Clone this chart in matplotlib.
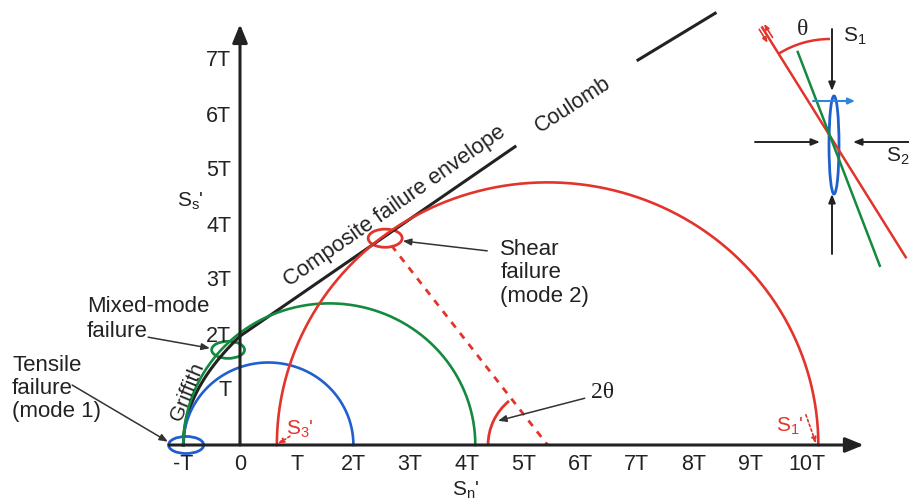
import numpy as np
import matplotlib
matplotlib.use('Agg')
import matplotlib.pyplot as plt
from matplotlib.patches import Ellipse, Arc

plt.rcParams['font.family'] = ['Liberation Sans', 'DejaVu Sans']
plt.rcParams['mathtext.fontset'] = 'custom'
plt.rcParams['mathtext.rm'] = 'Liberation Sans'
plt.rcParams['mathtext.it'] = 'Liberation Sans'

# ---- Data (stress in units of T) ------------------------------
circle_names = ['tensile', 'mixed', 'shear']
circle_s3 = [-1.0, -1.0, 0.65]     # left end of each Mohr circle
circle_s1 = [2.0, 4.15, 10.2]      # right end of each Mohr circle
circle_colors = ['#1f5fcf', '#148a3f', '#e3342b']

x_ticks = [-1, 0, 1, 2, 3, 4, 5, 6, 7, 8, 9, 10]
x_labels = ['-T', '0', 'T', '2T', '3T', '4T', '5T', '6T', '7T', '8T', '9T', '10T']
y_ticks = [1, 2, 3, 4, 5, 6, 7]
y_labels = ['T', '2T', '3T', '4T', '5T', '6T', '7T']

cohesion = 1.98        # envelope intercept (2T)
friction = 0.71        # envelope slope
envelope_end = 4.85
coulomb_x = [7.02, 8.38]
coulomb_y = [7.0, 7.85]

BLACK = '#222222'
RED = circle_colors[2]
GREEN = circle_colors[1]
BLUE = circle_colors[0]

# ---- Figure ----------------------------------------------------
fig = plt.figure(figsize=(9.09, 5.02), dpi=100)
ax = fig.add_axes([0, 0, 1, 1])
ax.set_xlim(-240 / 56.7, 669 / 56.7)
ax.set_ylim(-56 / 55, 446 / 55)
ax.axis('off')

# axes with arrows
ax.annotate('', xy=(11.0, 0), xytext=(-1.25, 0),
            arrowprops=dict(arrowstyle='-|>,head_length=1.1,head_width=0.45',
                            lw=2.2, color=BLACK, shrinkA=0, shrinkB=0))
ax.annotate('', xy=(0, 7.65), xytext=(0, 0),
            arrowprops=dict(arrowstyle='-|>,head_length=1.1,head_width=0.45',
                            lw=2.2, color=BLACK, shrinkA=0, shrinkB=0))

for xt, lab in zip(x_ticks, x_labels):
    ax.text(xt, -0.34, lab, ha='center', va='center', fontsize=15.5, color=BLACK)
for yt, lab in zip(y_ticks, y_labels):
    ax.text(-0.15, yt, lab, ha='right', va='center', fontsize=15.5, color=BLACK)

ax.text(-0.88, 4.44, "S$_\\mathrm{s}$'", ha='center', va='center', fontsize=15, color=BLACK)
ax.text(3.99, -0.80, "S$_\\mathrm{n}$'", ha='center', va='center', fontsize=15, color=BLACK)

# ---- Envelope --------------------------------------------------
gx = np.linspace(-1, 0, 100)
gy = cohesion * np.sqrt(gx + 1)
ax.plot(gx, gy, color=BLACK, lw=2.2)
ex = np.array([0, envelope_end])
ax.plot(ex, cohesion + friction * ex, color=BLACK, lw=2.2)
ax.plot(coulomb_x, coulomb_y, color=BLACK, lw=2.2)

# ---- Mohr circles ---------------------------------------------
t = np.linspace(0, np.pi, 300)
for s3, s1, c in zip(circle_s3, circle_s1, circle_colors):
    cen = (s1 + s3) / 2
    r = (s1 - s3) / 2
    ax.plot(cen + r * np.cos(t), r * np.sin(t), color=c, lw=1.9)

# radius to the tangent point of the big circle
cen = (circle_s1[2] + circle_s3[2]) / 2
n = np.array([-friction, 1.0]) / np.hypot(friction, 1.0)
d = (friction * cen + cohesion) / np.hypot(friction, 1.0)
foot = np.array([cen, 0]) + d * n
ax.plot([foot[0], cen], [foot[1] - 0.25, 0], color=RED, lw=2, ls=(0, (2.5, 2.5)))

ang = np.degrees(np.arctan2(foot[1], foot[0] - cen))
ax.add_patch(Arc((cen, 0), 2.1, 2.1, theta1=ang + 5, theta2=180, color=RED, lw=2))

# failure points
ax.add_patch(Ellipse((-0.95, 0), 0.62, 0.31, fill=False, ec=BLUE, lw=2))
ax.add_patch(Ellipse((-0.21, 1.73), 0.58, 0.31, fill=False, ec=GREEN, lw=2))
ax.add_patch(Ellipse((2.56, 3.76), 0.60, 0.33, fill=False, ec=RED, lw=2))

# ---- Labels and callouts ---------------------------------------
ap = dict(arrowstyle='-|>,head_length=0.5,head_width=0.2', lw=1.1, color='#333333',
          shrinkA=0, shrinkB=0)
ax.text(-4.02, 1.04, 'Tensile\nfailure\n(mode 1)', ha='left', va='center',
        fontsize=16, linespacing=1.13, color=BLACK)
ax.annotate('', xy=(-1.27, 0.06), xytext=(-2.96, 1.09), arrowprops=ap)

ax.text(-2.70, 2.31, 'Mixed-mode\nfailure', ha='left', va='center',
        fontsize=16, linespacing=1.22, color=BLACK)
ax.annotate('', xy=(-0.53, 1.76), xytext=(-1.62, 1.96), arrowprops=ap)

ax.text(4.59, 3.15, 'Shear\nfailure\n(mode 2)', ha='left', va='center',
        fontsize=16, linespacing=1.17, color=BLACK)
ax.annotate('', xy=(2.87, 3.71), xytext=(4.36, 3.53), arrowprops=ap)

ax.text(2.73, 4.35, 'Composite failure envelope', ha='center', va='center',
        rotation=35, fontsize=15.8, color=BLACK)
ax.text(5.87, 6.2, 'Coulomb', ha='center', va='center', rotation=33,
        fontsize=15.5, color=BLACK)
ax.text(-0.93, 0.98, 'Griffith', ha='center', va='center', rotation=68,
        fontsize=15, color=BLACK)

ax.text(6.40, 0.98, '2θ', ha='center', va='center', fontsize=17,
        family=['Liberation Serif', 'DejaVu Serif'], color=BLACK)
ax.annotate('', xy=(4.55, 0.44), xytext=(6.08, 0.85), arrowprops=ap)

rap = dict(arrowstyle='-|>,head_length=0.35,head_width=0.15', lw=1.2, color=RED,
           ls=(0, (1.5, 1.5)), shrinkA=0, shrinkB=0)
ax.text(1.06, 0.31, "S$_3$'", ha='center', va='center', fontsize=15, color=RED)
ax.annotate('', xy=(0.67, 0.02), xytext=(0.88, 0.16), arrowprops=rap)
ax.text(9.70, 0.35, "S$_1$'", ha='center', va='center', fontsize=15, color=RED)
ax.annotate('', xy=(10.16, 0.03), xytext=(9.98, 0.55), arrowprops=rap)

# ---- Inset: fracture geometry ---------------------------------
ins = fig.add_axes([740 / 909, 1 - 280 / 502, 169 / 909, 280 / 502])
ins.set_xlim(-90, 79)
ins.set_ylim(-143, 137)
ins.axis('off')

theta = np.radians(32)
u = np.array([np.sin(theta), -np.cos(theta)])
ins.plot([-128 * u[0], 143 * u[0]], [-128 * u[1], 143 * u[1]], color=RED, lw=1.8)
phi = np.radians(21)
g = np.array([np.sin(phi), -np.cos(phi)])
ins.plot([-90 * g[0], 139 * g[0]], [-90 * g[1], 139 * g[1]], color=GREEN, lw=1.8)

ins.add_patch(Arc((0, 0), 194, 194, theta1=90, theta2=90 + 32, color=RED, lw=1.8))
ins.text(-27, 107, 'θ', ha='center', va='center', fontsize=17,
         family=['Liberation Serif', 'DejaVu Serif'], color=BLACK)
ins.text(13, 101, 'S$_1$', ha='left', va='center', fontsize=15, color=BLACK)
ins.text(79, -19, 'S$_2$', ha='right', va='center', fontsize=15, color=BLACK)

kap = dict(arrowstyle='-|>,head_length=0.5,head_width=0.2', lw=1.4, color=BLACK,
           shrinkA=0, shrinkB=0)
ins.annotate('', xy=(2, 45), xytext=(2, 107), arrowprops=kap)
ins.annotate('', xy=(2, -58), xytext=(2, -118), arrowprops=kap)
ins.annotate('', xy=(-10, -6), xytext=(-75, -6), arrowprops=kap)
ins.annotate('', xy=(23, -6), xytext=(85, -6), arrowprops=kap)

ins.add_patch(Ellipse((4, -9), 10, 98, fill=False, ec=BLUE, lw=2))
ins.annotate('', xy=(25, 35), xytext=(-17, 35),
             arrowprops=dict(arrowstyle='-|>,head_length=0.4,head_width=0.18', lw=1.5,
                             color='#2f86d6', shrinkA=0, shrinkB=0))

# shear sense on the red fracture
p = np.array([np.cos(theta), np.sin(theta)]) * 3.5
top = -122 * u
sap = dict(arrowstyle='-|>,head_length=0.3,head_width=0.12', lw=1.2, color=RED,
           shrinkA=0, shrinkB=0)
ins.annotate('', xy=top + p + 8 * (-u), xytext=top + p + 8 * u, arrowprops=sap)
ins.annotate('', xy=top - p + 10 * u, xytext=top - p - 6 * u, arrowprops=sap)

fig.savefig('out.png', dpi=100, facecolor='white')
